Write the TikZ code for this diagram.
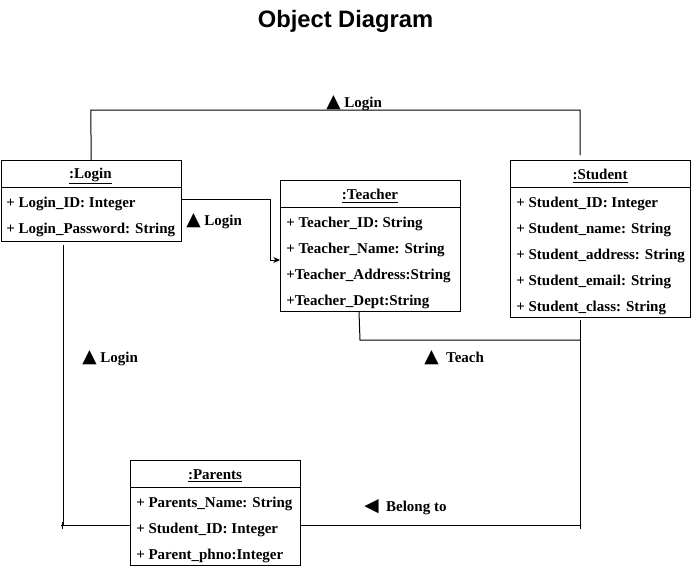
\documentclass[tikz,border=0pt]{standalone}
\usepackage{fontspec}
\setmainfont{Liberation Serif}
\newfontfamily\titlefont{Liberation Sans}
\newfontfamily\symfont{DejaVu Sans}
\usetikzlibrary{arrows.meta}

\newcommand{\up}{{\fontsize{14}{14}\symfont ▲}}
\newcommand{\lt}{{\fontsize{14}{14}\symfont ◀}}

\tikzset{
  objbox/.style={draw, line width=0.75pt, inner sep=0pt, anchor=north west},
  head/.style={font=\fontsize{11.25}{13}\selectfont\bfseries, inner sep=0pt, yshift=-1.5pt},
  attr/.style={font=\fontsize{11.25}{13}\selectfont\bfseries, anchor=west, inner sep=0pt, yshift=-1.5pt},
  lbl/.style={font=\fontsize{11.25}{13}\selectfont\bfseries, anchor=west, inner sep=0pt, yshift=-0.75pt},
  link/.style={line width=0.75pt}
}

\begin{document}
\begin{tikzpicture}[x=0.75pt, y=-0.75pt]
        \useasboundingbox (0,0) rectangle (691,568);
        \node[font=\fontsize{17.8}{20}\selectfont\titlefont\bfseries] (title) at (345.5,21.5) {Object Diagram};

        % objects
        \node[objbox, minimum width=180.5*0.75pt, minimum height=81*0.75pt] (login) at (0.5,160) {};
        \node[objbox, minimum width=180*0.75pt, minimum height=131*0.75pt] (teacher) at (280,180) {};
        \node[objbox, minimum width=180*0.75pt, minimum height=157*0.75pt] (student) at (510,160) {};
        \node[objbox, minimum width=170*0.75pt, minimum height=105*0.75pt] (parents) at (130,460) {};

        \draw[link] (0.5,187) -- (181,187);
        \draw[link] (280,207) -- (460,207);
        \draw[link] (510,187) -- (690,187);
        \draw[link] (130,487) -- (300,487);

        \node[head] (loginH) at (90.5,174) {\underline{:Login}};
        \node[attr] (loginA) at (6,202) {+ Login\_ID: Integer};
        \node[attr] (loginB) at (6,228) {+ Login\_Password: String};

        \node[head] (teacherH) at (370,194) {\underline{:Teacher}};
        \node[attr] (teacherA) at (286,222) {+ Teacher\_ID: String};
        \node[attr] (teacherB) at (286,248) {+ Teacher\_Name: String};
        \node[attr] (teacherC) at (286,274) {+Teacher\_Address:String};
        \node[attr] (teacherD) at (286,300) {+Teacher\_Dept:String};

        \node[head] (studentH) at (600,174) {\underline{:Student}};
        \node[attr] (studentA) at (516,202) {+ Student\_ID: Integer};
        \node[attr] (studentB) at (516,228) {+ Student\_name: String};
        \node[attr] (studentC) at (516,254) {+ Student\_address: String};
        \node[attr] (studentD) at (516,280) {+ Student\_email: String};
        \node[attr] (studentE) at (516,306) {+ Student\_class: String};

        \node[head] (parentsH) at (215,474) {\underline{:Parents}};
        \node[attr] (parentsA) at (136,502) {+ Parents\_Name: String};
        \node[attr] (parentsB) at (136,528) {+ Student\_ID: Integer};
        \node[attr] (parentsC) at (136,554) {+ Parent\_phno:Integer};

        % links
        \coordinate (stuTop) at (580,155);
        \coordinate (stuBot) at (580,320);
        \coordinate (logBot) at (63,245);
        \draw[link] (login.north) -- (90.75,110) -- (580,110) -- (stuTop);
        \draw[link, -{Stealth[length=5pt, width=4.5pt]}] (login.east |- 0,199) -- (270,199) -- (270,260) -- (teacher.west |- 0,260);
        \draw[link] (logBot) -- (63,525) -- (parents.west |- 0,525);
        \draw[link] (61,525) -- (63,525) (62,522) -- (62,529);
        \draw[link] (teacher.south -| 359,0) -- (360,340) -- (580,340);
        \draw[link] (stuBot) -- (580,525) -- (parents.east |- 0,525);
        \draw[link] (580,522) -- (580,529);

        % labels
        \node[lbl] (topL) at (326,102) {\up\ Login};
        \node[lbl] (midL) at (186,220) {\up\ Login};
        \node[lbl] (leftL) at (82,357) {\up\ Login};
        \node[lbl] (teachL) at (424,357) {\up\ \ Teach};
        \node[lbl] (belongL) at (364,506) {\lt\ \ Belong to};
\end{tikzpicture}
\end{document}
